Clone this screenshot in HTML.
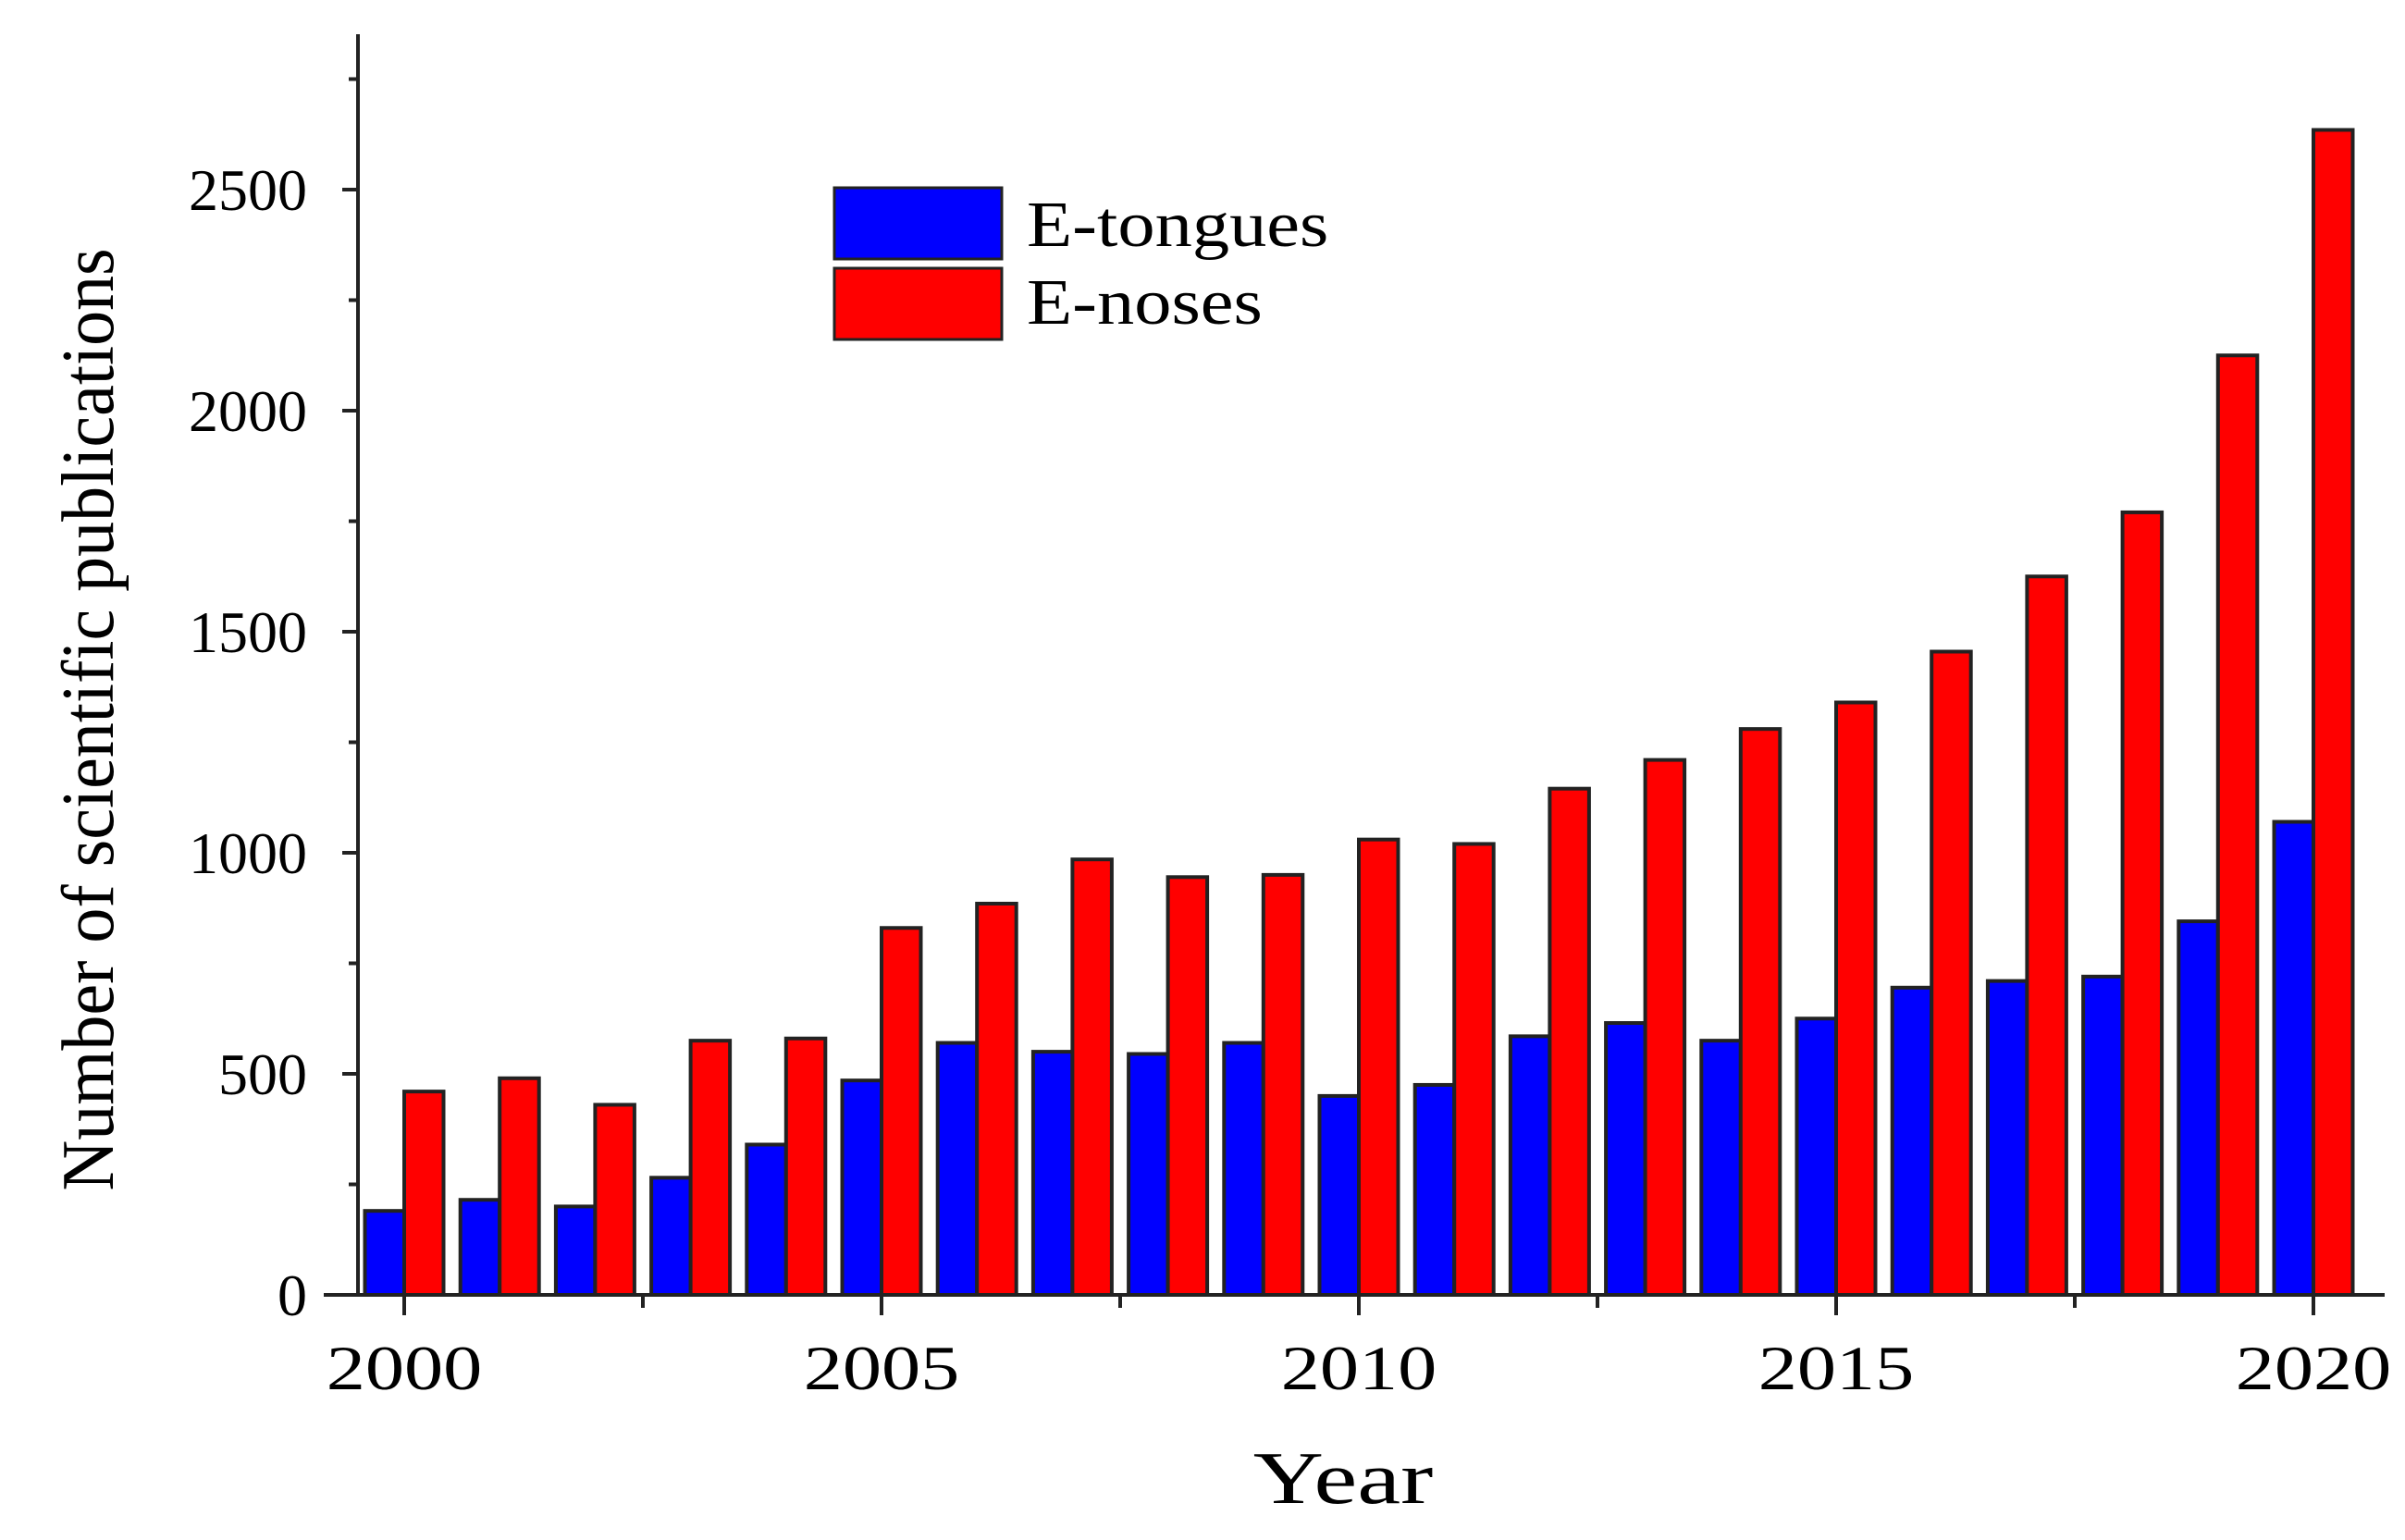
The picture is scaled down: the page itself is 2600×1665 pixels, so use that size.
<!DOCTYPE html>
<html><head><meta charset="utf-8"><style>html,body{margin:0;padding:0;background:#fff;}svg{display:block}</style></head>
<body>
<svg width="2600" height="1665" viewBox="0 0 2600 1665" xmlns="http://www.w3.org/2000/svg" font-family="'Liberation Serif', serif" fill="#000">
<g id="bars" stroke="#222" stroke-width="4"></g>
<g stroke="#222" stroke-width="4" fill="none">
<line x1="387" y1="37" x2="387" y2="1402"/>
<line x1="350" y1="1400" x2="2578" y2="1400"/>
</g>
<g id="ticks" stroke="#222" stroke-width="4"></g>
<g id="labels" font-size="64"></g>
<!-- legend -->
<rect x="902" y="203" width="181" height="77" fill="#0000ff" stroke="#222" stroke-width="3"/>
<rect x="902" y="290" width="181" height="77" fill="#ff0000" stroke="#222" stroke-width="3"/>
<text transform="translate(1110,266) scale(1.15,1)" font-size="70">E-tongues</text>
<text transform="translate(1110,350) scale(1.15,1)" font-size="70">E-noses</text>
<text transform="translate(1452,1625) scale(1.32,1)" font-size="80" text-anchor="middle">Year</text>
<text transform="translate(122,778) rotate(-90) scale(0.95,1)" font-size="80" text-anchor="middle">Number of scientific publications</text>
<script>
var blue=[190,215,200,265,340,485,570,550,545,570,450,475,585,615,575,625,695,710,720,845,1070];
var red=[460,490,430,575,580,830,885,985,945,950,1030,1020,1145,1210,1280,1340,1455,1625,1770,2125,2635];
var ns="http://www.w3.org/2000/svg";
function el(p,t,a,txt){var e=document.createElementNS(ns,t);for(var k in a)e.setAttribute(k,a[k]);if(txt)e.textContent=txt;p.appendChild(e);return e;}
var y0=1400,s=239/500,x0=437,dx=103.2,w=42.5;
var B=document.getElementById('bars'),T=document.getElementById('ticks'),L=document.getElementById('labels');
for(var i=0;i<21;i++){var x=x0+i*dx;
el(B,'rect',{x:x-w,y:y0-blue[i]*s,width:w,height:blue[i]*s,fill:'#0000ff'});
el(B,'rect',{x:x,y:y0-red[i]*s,width:w,height:red[i]*s,fill:'#ff0000'});}
for(var v=0;v<=2750;v+=250){var y=y0-v*s;var maj=v%500==0;
el(T,'line',{x1:maj?370:377,y1:y,x2:387,y2:y});
if(maj)el(L,'text',{x:332,y:y+22,'text-anchor':'end'},String(v));}
for(var k=0;k<=8;k++){var x=x0+k*2.5*dx;var maj=k%2==0;
el(T,'line',{x1:x,y1:1400,x2:x,y2:maj?1422:1414});
if(maj)el(L,'text',{transform:'translate('+x+',1502) scale(1.24,1)','text-anchor':'middle','font-size':'68'},String(2000+k*2.5));}
</script>
</svg>
</body></html>
